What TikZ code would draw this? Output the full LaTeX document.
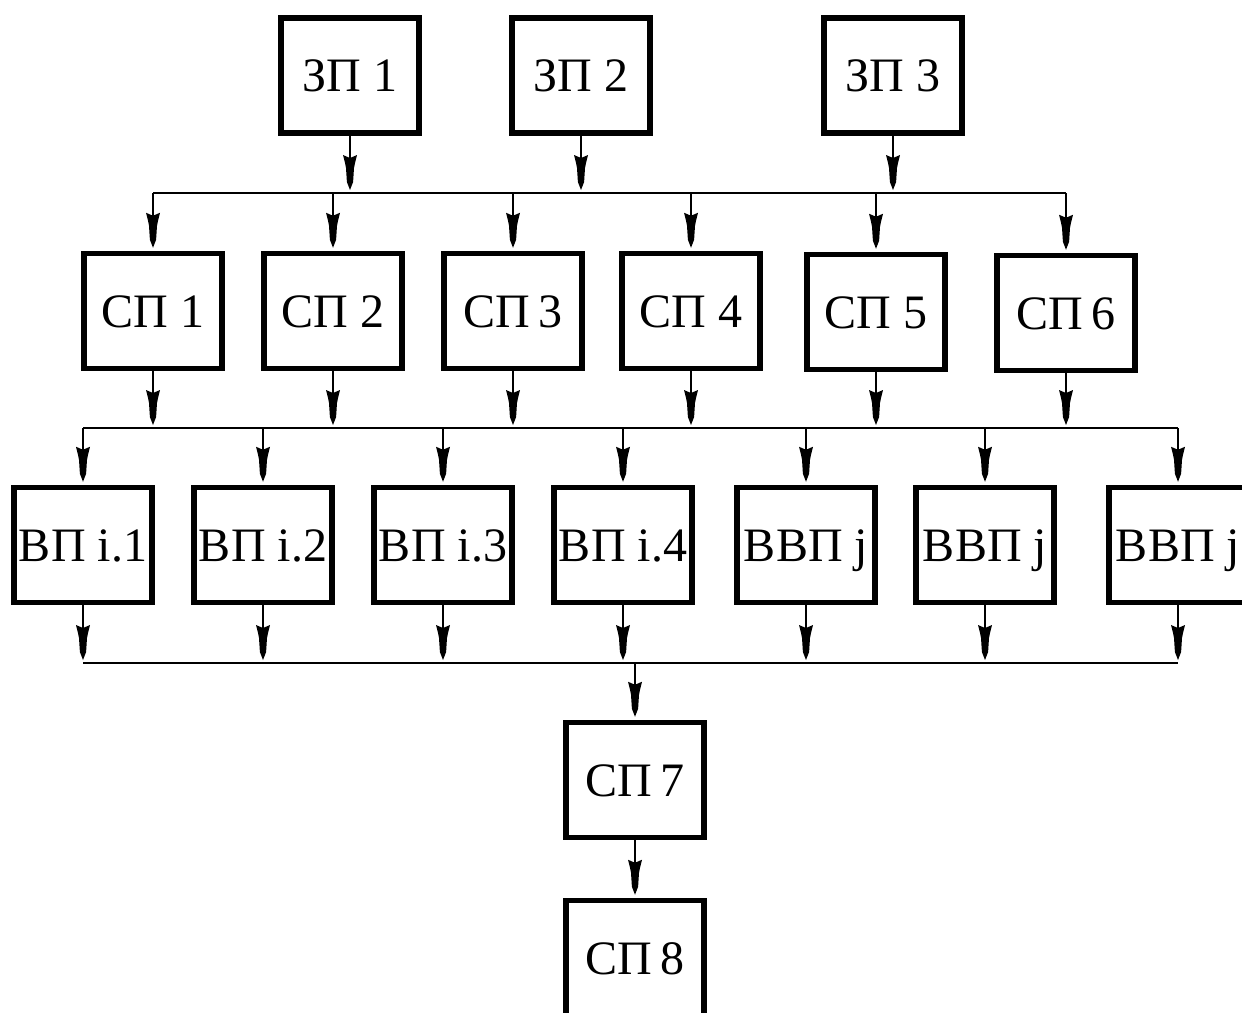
\documentclass[tikz,border=0pt]{standalone}
\usepackage{fontspec}
\setmainfont{Liberation Serif}
\usetikzlibrary{arrows.meta}
\pgfdeclarearrow{
  name = BDart,
  parameters = {},
  setup code = {
    \pgfarrowssettipend{0pt}
    \pgfarrowssetlineend{-24pt}
    \pgfarrowssetbackend{-35pt}
    \pgfarrowshullpoint{0pt}{0pt}
    \pgfarrowshullpoint{-35pt}{7pt}
    \pgfarrowshullpoint{-35pt}{-7pt}
  },
  drawing code = {
    \pgfpathmoveto{\pgfpoint{0pt}{0pt}}
    \pgfpathlineto{\pgfpoint{-8pt}{3.1pt}}
    \pgfpathlineto{\pgfpoint{-22pt}{4pt}}
    \pgfpathlineto{\pgfpoint{-27pt}{5pt}}
    \pgfpathlineto{\pgfpoint{-35pt}{7pt}}
    \pgfpathlineto{\pgfpoint{-32pt}{0pt}}
    \pgfpathlineto{\pgfpoint{-35pt}{-7pt}}
    \pgfpathlineto{\pgfpoint{-27pt}{-5pt}}
    \pgfpathlineto{\pgfpoint{-22pt}{-4pt}}
    \pgfpathlineto{\pgfpoint{-8pt}{-3.1pt}}
    \pgfpathclose
    \pgfusepathqfill
  }
}
\tikzset{
  pbox/.style={draw, line width=5.5pt, minimum width=138pt, minimum height=115pt,
    inner sep=0pt, font=\fontsize{48}{48}\selectfont, text height=32pt, text depth=0pt},
  conn/.style={line width=1.5pt},
  arr/.style={conn, shorten >=3pt, -{BDart}}
}
\begin{document}
\begin{tikzpicture}[x=1pt,y=-1pt]
\useasboundingbox (0,0) rectangle (1242,1012);
\clip (0,0) rectangle (1242,1012);
\coordinate (b1) at (0,193);
\coordinate (b2) at (0,428);
\coordinate (b3) at (0,663);
% top row
\node[pbox] (z1) at (350,75.5) {ЗП 1};
\node[pbox] (z2) at (581,75.5) {ЗП 2};
\node[pbox] (z3) at (893,75.5) {ЗП 3};
% second row
\node[pbox] (s1) at (153,311) {СП 1};
\node[pbox] (s2) at (333,311) {СП 2};
\node[pbox] (s3) at (513,311) {СП\,3};
\node[pbox] (s4) at (691,311) {СП 4};
\node[pbox] (s5) at (876,312) {СП 5};
\node[pbox] (s6) at (1066,313) {СП\,6};
% third row
\node[pbox] (v1) at (83,545) {ВП i.1};
\node[pbox] (v2) at (263,545) {ВП i.2};
\node[pbox] (v3) at (443,545) {ВП i.3};
\node[pbox] (v4) at (623,545) {ВП i.4};
\node[pbox] (w1) at (806,545) {ВВП j};
\node[pbox] (w2) at (985,545) {ВВП j};
\node[pbox] (w3) at (1178,545) {ВВП j};
% bottom
\node[pbox] (s7) at (635,780) {СП\,7};
\node[pbox] (s8) at (635,958) {СП\,8};
% bus 1
\draw[conn] (s1.north |- b1) -- (s6.north |- b1);
\foreach \n in {z1,z2,z3} \draw[arr] (\n.south) -- (\n.south |- b1);
\foreach \n in {s1,s2,s3,s4,s5,s6} \draw[arr] (\n.north |- b1) -- (\n.north);
% bus 2
\draw[conn] (v1.north |- b2) -- (w3.north |- b2);
\foreach \n in {s1,s2,s3,s4,s5,s6} \draw[arr] (\n.south) -- (\n.south |- b2);
\foreach \n in {v1,v2,v3,v4,w1,w2,w3} \draw[arr] (\n.north |- b2) -- (\n.north);
% bus 3
\draw[conn] (v1.south |- b3) -- (w3.south |- b3);
\foreach \n in {v1,v2,v3,v4,w1,w2,w3} \draw[arr] (\n.south) -- (\n.south |- b3);
\draw[arr] (s7.north |- b3) -- (s7.north);
\draw[arr] (s7.south) -- (s8.north);
\end{tikzpicture}
\end{document}
